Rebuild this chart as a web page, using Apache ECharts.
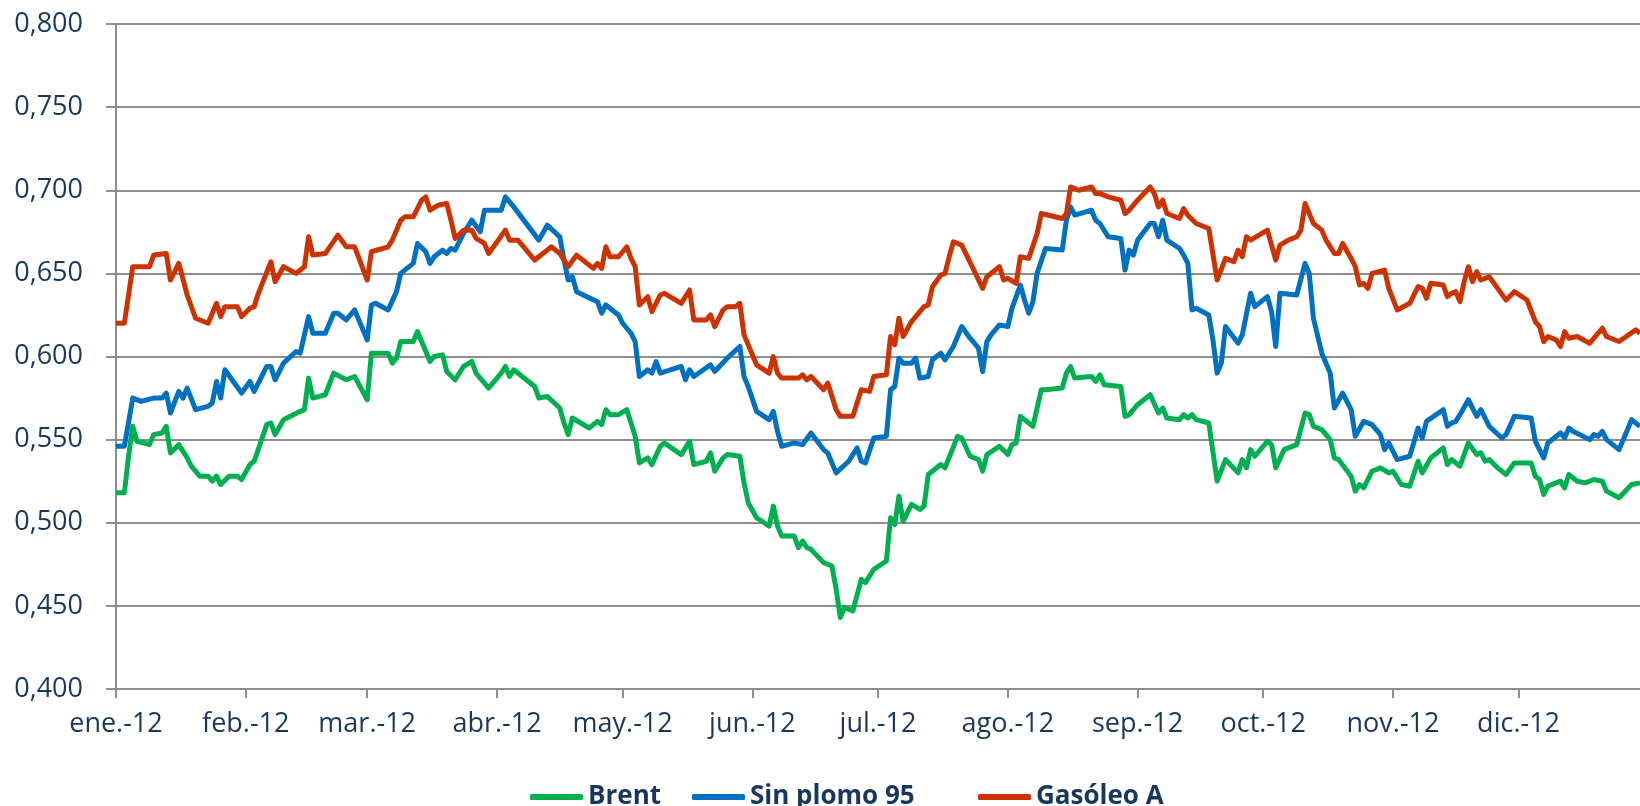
<!DOCTYPE html>
<html>
<head>
<meta charset="utf-8">
<script src="https://cdn.jsdelivr.net/npm/echarts@6/dist/echarts.min.js"></script>
<style>
  html, body { margin: 0; padding: 0; background: #fff; }
  #chart { width: 1640px; height: 806px; }
</style>
</head>
<body>
<div id="chart"></div>
<script>
// month ticks (day of year 2012) and their labels
const monthDays = [0, 31, 60, 91, 121, 152, 182, 213, 244, 274, 305, 335]
const monthLabels = ['ene.-12', 'feb.-12', 'mar.-12', 'abr.-12', 'may.-12', 'jun.-12',
  'jul.-12', 'ago.-12', 'sep.-12', 'oct.-12', 'nov.-12', 'dic.-12']

// Brent
const brentDays = [0, 2, 3, 4, 5, 8, 9, 11, 12, 13, 15, 17, 18, 20, 22, 23, 24, 25, 27, 29, 30, 32, 33, 36, 37, 38, 40, 44, 45, 46, 47, 50, 52, 55, 57, 60,
  61, 62, 65, 66, 67, 68, 71, 72, 73, 75, 76, 78, 79, 81, 83, 85, 86, 89, 92, 93, 94, 95, 100, 101, 103, 106, 107, 108, 109, 113, 115, 116, 117, 118, 120, 122, 123, 124,
  125, 127, 128, 130, 131, 135, 137, 138, 141, 142, 143, 145, 146, 149, 150, 151, 153, 156, 157, 158, 159, 162, 163, 164, 165, 166, 169, 171, 172, 173, 174, 176, 178, 179, 181, 184, 185, 186, 187, 188, 190,
  192, 193, 194, 197, 198, 201, 202, 204, 206, 207, 208, 211, 213, 214, 215, 216, 219, 221, 222, 226, 227, 228, 229, 233, 234, 235, 236, 240, 241, 242, 244, 247, 249, 250, 251,
  254, 255, 256, 257, 258, 261, 263, 265, 268, 269, 270, 271, 272, 275, 276, 277, 279, 282, 284, 285, 286, 288, 290, 291, 292, 295, 296, 297, 298, 300, 302, 304, 305, 307, 309,
  311, 312, 314, 317, 318, 319, 321, 323, 325, 326, 327, 328, 330, 332, 334, 338, 339, 340, 341, 342, 345, 346, 347, 349, 351, 353, 355, 356, 359, 362, 364]
const brentValues = [0.518, 0.518, 0.540, 0.558, 0.549, 0.547, 0.553, 0.554, 0.558, 0.542, 0.547, 0.539, 0.534, 0.528, 0.528, 0.525, 0.528, 0.523, 0.528, 0.528, 0.526, 0.535, 0.537, 0.559, 0.560, 0.553, 0.562, 0.567, 0.568, 0.587, 0.575, 0.577, 0.590, 0.586, 0.588, 0.574,
  0.602, 0.602, 0.602, 0.596, 0.599, 0.609, 0.609, 0.615, 0.609, 0.597, 0.600, 0.601, 0.591, 0.586, 0.594, 0.597, 0.590, 0.581, 0.590, 0.594, 0.588, 0.592, 0.582, 0.575, 0.576, 0.569, 0.560, 0.553, 0.563, 0.557, 0.561, 0.559, 0.568, 0.565, 0.565, 0.568, 0.560, 0.552,
  0.536, 0.539, 0.535, 0.546, 0.548, 0.541, 0.549, 0.535, 0.537, 0.542, 0.531, 0.539, 0.541, 0.540, 0.524, 0.512, 0.503, 0.498, 0.510, 0.498, 0.492, 0.492, 0.485, 0.489, 0.485, 0.484, 0.476, 0.474, 0.460, 0.443, 0.449, 0.447, 0.466, 0.464, 0.472, 0.477, 0.503, 0.499, 0.516, 0.501, 0.511,
  0.508, 0.510, 0.529, 0.535, 0.533, 0.552, 0.551, 0.540, 0.538, 0.531, 0.541, 0.546, 0.541, 0.547, 0.548, 0.564, 0.558, 0.580, 0.580, 0.581, 0.590, 0.594, 0.587, 0.588, 0.585, 0.589, 0.583, 0.582, 0.564, 0.565, 0.571, 0.577, 0.566, 0.569, 0.563,
  0.562, 0.565, 0.563, 0.565, 0.562, 0.560, 0.525, 0.538, 0.530, 0.538, 0.533, 0.544, 0.540, 0.549, 0.547, 0.533, 0.544, 0.547, 0.566, 0.565, 0.558, 0.556, 0.550, 0.539, 0.538, 0.528, 0.519, 0.523, 0.521, 0.531, 0.533, 0.530, 0.531, 0.523, 0.522,
  0.537, 0.530, 0.539, 0.545, 0.535, 0.538, 0.534, 0.548, 0.541, 0.542, 0.537, 0.538, 0.533, 0.529, 0.536, 0.536, 0.528, 0.526, 0.517, 0.522, 0.525, 0.521, 0.529, 0.525, 0.524, 0.526, 0.525, 0.519, 0.515, 0.523, 0.524]

// Sin plomo 95
const sinPlomoDays = [0, 2, 4, 6, 9, 11, 12, 13, 15, 16, 17, 19, 22, 23, 24, 25, 26, 30, 32, 33, 36, 37, 38, 40, 43, 44, 46, 47, 50, 52, 53, 55, 57, 60,
  61, 62, 65, 67, 68, 71, 72, 74, 75, 76, 78, 79, 80, 81, 83, 85, 87, 88, 92, 93, 95, 101, 103, 106, 107, 108, 109, 110, 115, 116, 117, 120, 121, 122, 123, 124,
  125, 127, 128, 129, 130, 135, 136, 137, 138, 142, 143, 146, 149, 150, 151, 153, 156, 157, 158, 159, 162, 164, 166, 169, 170, 172, 175, 177, 178, 179, 181, 184, 185, 186, 187, 188, 190, 191,
  192, 194, 195, 197, 198, 200, 202, 204, 206, 207, 208, 209, 211, 213, 214, 216, 217, 218, 219, 220, 222, 226, 227, 228, 229, 233, 234, 235, 237, 240, 241, 242, 243, 244, 247, 248, 249, 250, 251,
  254, 255, 256, 257, 258, 261, 262, 263, 264, 265, 268, 269, 271, 272, 275, 276, 277, 278, 282, 284, 285, 286, 288, 290, 291, 293, 295, 296, 298, 300, 302, 303, 304, 306, 309,
  311, 312, 313, 317, 318, 319, 320, 321, 323, 325, 326, 328, 331, 332, 334, 338, 339, 341, 342, 345, 346, 347, 348, 352, 353, 354, 355, 356, 359, 362, 364]
const sinPlomoValues = [0.546, 0.546, 0.575, 0.573, 0.575, 0.575, 0.578, 0.566, 0.579, 0.575, 0.581, 0.568, 0.570, 0.572, 0.585, 0.575, 0.592, 0.578, 0.585, 0.579, 0.594, 0.594, 0.586, 0.596, 0.603, 0.602, 0.624, 0.614, 0.614, 0.626, 0.626, 0.622, 0.628, 0.610,
  0.631, 0.632, 0.628, 0.639, 0.650, 0.656, 0.668, 0.663, 0.656, 0.660, 0.664, 0.662, 0.665, 0.664, 0.674, 0.682, 0.675, 0.688, 0.688, 0.696, 0.690, 0.670, 0.679, 0.672, 0.658, 0.646, 0.648, 0.639, 0.633, 0.626, 0.631, 0.625, 0.620, 0.617, 0.614, 0.609,
  0.588, 0.592, 0.590, 0.597, 0.590, 0.594, 0.586, 0.592, 0.588, 0.595, 0.591, 0.599, 0.606, 0.588, 0.582, 0.567, 0.562, 0.567, 0.555, 0.546, 0.548, 0.547, 0.554, 0.544, 0.542, 0.530, 0.537, 0.545, 0.537, 0.536, 0.551, 0.552, 0.580, 0.582, 0.599, 0.596, 0.596, 0.599,
  0.587, 0.588, 0.598, 0.602, 0.598, 0.606, 0.618, 0.611, 0.605, 0.591, 0.609, 0.613, 0.619, 0.618, 0.629, 0.643, 0.634, 0.626, 0.633, 0.650, 0.665, 0.664, 0.682, 0.690, 0.685, 0.688, 0.682, 0.680, 0.672, 0.671, 0.652, 0.664, 0.661, 0.670, 0.680, 0.680, 0.672, 0.682, 0.670,
  0.665, 0.661, 0.656, 0.628, 0.629, 0.625, 0.610, 0.590, 0.596, 0.618, 0.608, 0.613, 0.638, 0.630, 0.636, 0.627, 0.606, 0.638, 0.637, 0.656, 0.650, 0.623, 0.602, 0.590, 0.569, 0.578, 0.568, 0.552, 0.561, 0.559, 0.553, 0.544, 0.548, 0.538, 0.540,
  0.557, 0.551, 0.561, 0.568, 0.558, 0.560, 0.561, 0.565, 0.574, 0.564, 0.568, 0.558, 0.551, 0.553, 0.564, 0.563, 0.549, 0.539, 0.548, 0.554, 0.551, 0.557, 0.555, 0.550, 0.553, 0.552, 0.555, 0.550, 0.544, 0.562, 0.558]

// Gasóleo A
const gasoleoDays = [0, 2, 4, 8, 9, 12, 13, 15, 17, 19, 22, 24, 25, 26, 29, 30, 32, 33, 34, 37, 38, 40, 43, 45, 46, 47, 50, 53, 55, 57, 60,
  61, 65, 66, 68, 69, 71, 73, 74, 75, 77, 79, 80, 81, 83, 85, 86, 88, 89, 93, 94, 96, 100, 104, 106, 108, 110, 114, 115, 116, 117, 118, 120, 122, 123, 124,
  125, 127, 128, 130, 131, 135, 137, 138, 141, 142, 143, 145, 146, 148, 149, 150, 151, 153, 156, 157, 158, 159, 163, 164, 165, 166, 169, 170, 172, 173, 176, 178, 180, 181, 184, 185, 186, 187, 188, 190, 191,
  193, 194, 195, 197, 198, 199, 200, 202, 207, 208, 211, 212, 213, 215, 216, 218, 220, 221, 226, 227, 228, 230, 233, 234, 235, 237, 240, 241, 242, 244, 247, 248, 249, 250, 251,
  254, 255, 256, 258, 261, 263, 265, 267, 268, 269, 270, 271, 275, 277, 278, 280, 282, 283, 284, 286, 288, 289, 291, 292, 293, 295, 296, 297, 298, 299, 300, 303, 304, 306, 309,
  311, 312, 313, 314, 317, 318, 319, 320, 321, 322, 323, 324, 325, 326, 328, 330, 332, 334, 337, 339, 340, 341, 342, 344, 345, 346, 347, 349, 352, 353, 355, 356, 359, 363, 364]
const gasoleoValues = [0.620, 0.620, 0.654, 0.654, 0.661, 0.662, 0.646, 0.656, 0.637, 0.623, 0.620, 0.632, 0.624, 0.630, 0.630, 0.624, 0.629, 0.630, 0.638, 0.657, 0.645, 0.654, 0.650, 0.654, 0.672, 0.661, 0.662, 0.673, 0.666, 0.666, 0.646,
  0.663, 0.666, 0.670, 0.682, 0.684, 0.684, 0.694, 0.696, 0.688, 0.691, 0.692, 0.682, 0.671, 0.676, 0.676, 0.671, 0.668, 0.662, 0.676, 0.670, 0.670, 0.658, 0.666, 0.662, 0.654, 0.661, 0.653, 0.656, 0.653, 0.666, 0.660, 0.660, 0.666, 0.659, 0.654,
  0.631, 0.636, 0.627, 0.637, 0.638, 0.632, 0.640, 0.622, 0.622, 0.625, 0.618, 0.628, 0.630, 0.630, 0.632, 0.613, 0.607, 0.595, 0.590, 0.600, 0.590, 0.587, 0.587, 0.589, 0.586, 0.588, 0.580, 0.584, 0.568, 0.564, 0.564, 0.580, 0.579, 0.588, 0.589, 0.612, 0.607, 0.623, 0.612, 0.621, 0.624,
  0.630, 0.631, 0.642, 0.649, 0.650, 0.660, 0.669, 0.667, 0.641, 0.648, 0.654, 0.646, 0.647, 0.644, 0.660, 0.659, 0.674, 0.686, 0.683, 0.686, 0.702, 0.700, 0.702, 0.698, 0.698, 0.696, 0.694, 0.686, 0.688, 0.694, 0.702, 0.698, 0.690, 0.694, 0.686,
  0.683, 0.689, 0.685, 0.680, 0.677, 0.646, 0.659, 0.657, 0.664, 0.660, 0.672, 0.670, 0.676, 0.658, 0.667, 0.670, 0.672, 0.676, 0.692, 0.680, 0.676, 0.670, 0.662, 0.662, 0.668, 0.659, 0.654, 0.643, 0.644, 0.641, 0.650, 0.652, 0.641, 0.628, 0.632,
  0.642, 0.641, 0.635, 0.644, 0.643, 0.636, 0.638, 0.639, 0.633, 0.645, 0.654, 0.645, 0.651, 0.646, 0.648, 0.641, 0.634, 0.639, 0.634, 0.621, 0.618, 0.609, 0.612, 0.610, 0.606, 0.615, 0.611, 0.612, 0.608, 0.611, 0.617, 0.612, 0.609, 0.616, 0.614]

const pairs = (days, values) => days.map((d, i) => [d, values[i]])

const textColor = '#17375E'
const lineGray = '#8E8E8E'
const fontFamily = '"Open Sans", "Liberation Sans", sans-serif'

// one legend block per entry so each sits where the original has it
function legendAt(name, left) {
  return {
    left: left,
    top: 779,
    itemWidth: 53,
    itemHeight: 6,
    icon: 'roundRect',
    textStyle: { color: textColor, fontSize: 26, fontWeight: 'bold', fontFamily: fontFamily },
    data: [name]
  }
}

const chart = echarts.init(document.getElementById('chart'))
chart.setOption({
  animation: false,
  backgroundColor: '#fff',
  grid: { left: 116, right: 0, top: 24, bottom: 117, containLabel: false },
  legend: [
    legendAt('Brent', 525),
    legendAt('Sin plomo 95', 687),
    legendAt('Gasóleo A', 973)
  ],
  xAxis: {
    type: 'value',
    min: 0,
    max: 364,
    axisLine: { show: true, lineStyle: { color: lineGray, width: 2 } },
    axisTick: { show: true, length: 9, lineStyle: { color: lineGray, width: 2 }, customValues: monthDays },
    axisLabel: {
      customValues: monthDays,
      margin: 22,
      color: textColor,
      fontSize: 27,
      fontFamily: fontFamily,
      formatter: v => monthLabels[monthDays.indexOf(v)]
    },
    splitLine: { show: false }
  },
  yAxis: {
    type: 'value',
    min: 0.4,
    max: 0.8,
    interval: 0.05,
    axisLine: { show: true, lineStyle: { color: lineGray, width: 2 } },
    axisTick: { show: true, length: 10, lineStyle: { color: lineGray, width: 2 } },
    axisLabel: {
      margin: 33,
      color: textColor,
      fontSize: 27,
      fontFamily: fontFamily,
      formatter: v => v.toFixed(3).replace('.', ',')
    },
    splitLine: { show: true, lineStyle: { color: lineGray, width: 2 } }
  },
  series: [
    {
      name: 'Brent', type: 'line', showSymbol: false,
      itemStyle: { color: '#00B050' },
      lineStyle: { color: '#00B050', width: 5, join: 'round' },
      data: pairs(brentDays, brentValues)
    },
    {
      name: 'Sin plomo 95', type: 'line', showSymbol: false,
      itemStyle: { color: '#0070C0' },
      lineStyle: { color: '#0070C0', width: 5, join: 'round' },
      data: pairs(sinPlomoDays, sinPlomoValues)
    },
    {
      name: 'Gasóleo A', type: 'line', showSymbol: false,
      itemStyle: { color: '#CC3300' },
      lineStyle: { color: '#CC3300', width: 5, join: 'round' },
      data: pairs(gasoleoDays, gasoleoValues)
    }
  ]
})
</script>
</body>
</html>
